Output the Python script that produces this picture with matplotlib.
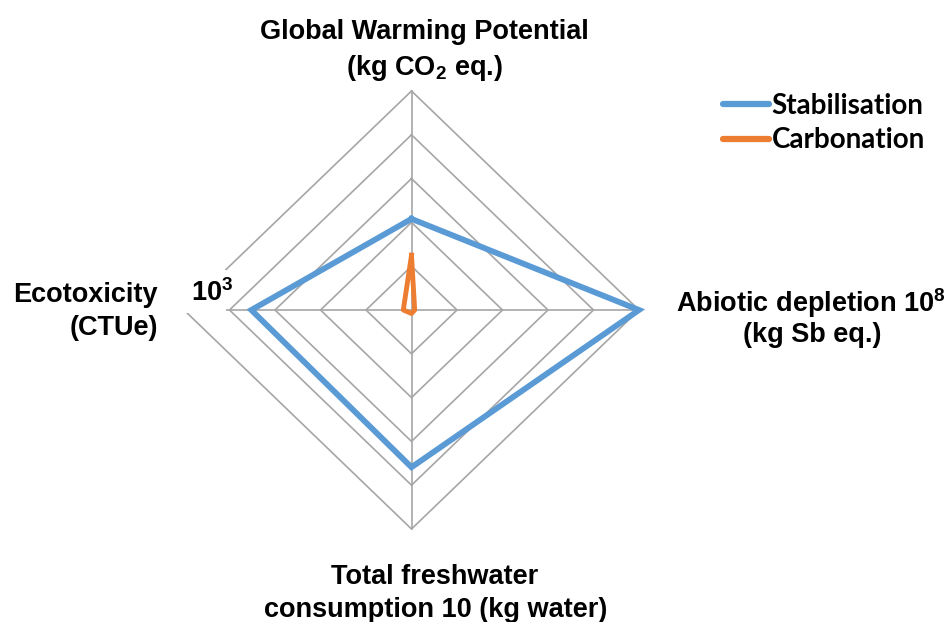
import numpy as np
import matplotlib
matplotlib.use("Agg")
import matplotlib.pyplot as plt
from matplotlib.patches import Rectangle

plt.rcParams["mathtext.fontset"] = "custom"
plt.rcParams["mathtext.rm"] = "Liberation Sans:bold"
plt.rcParams["mathtext.bf"] = "Liberation Sans:bold"

# radar axes, clockwise from top
categories = ["Global Warming Potential", "Abiotic depletion", "Total freshwater", "Ecotoxicity"]
stabilisation = [2.08, 5.0, 3.59, 3.52]
carbonation = [1.25, 0.07, 0.08, 0.18]
rings = [1, 2, 3, 4, 5]

BLUE = "#5B9BD5"
ORANGE = "#ED7D31"
GRID = "#A6A6A6"

angles = np.pi / 2 - np.arange(len(categories)) * np.pi / 2


def to_xy(vals):
    v = np.asarray(vals + vals[:1], dtype=float)
    a = np.concatenate([angles, angles[:1]])
    return v * np.cos(a), v * np.sin(a)


fig = plt.figure(figsize=(9.52, 6.22), dpi=100)
# centre ~ (411, 310) px, 45.5 px per unit horizontally, 43.8 vertically
cx, cy, ux, uy = 411.5, 310, 45.5, 43.8
lim = 5.6
ax = fig.add_axes([(cx - lim * ux) / 952, (622 - cy - lim * uy) / 622,
                   2 * lim * ux / 952, 2 * lim * uy / 622])
ax.set_xlim(-lim, lim)
ax.set_ylim(-lim, lim)
ax.axis("off")

for r in rings:
    x, y = to_xy([r] * len(categories))
    ax.plot(x, y, color=GRID, lw=1.2, zorder=1)
for a in angles:
    ax.plot([0, rings[-1] * np.cos(a)], [0, rings[-1] * np.sin(a)], color=GRID, lw=1.2, zorder=1)

# the "10^3" label box hides part of the outer ring
ax.add_patch(Rectangle((-5.4, -0.06), 1.33, 0.98, facecolor="white", edgecolor="none", zorder=2))

x, y = to_xy(stabilisation)
ax.plot(x, y, color=BLUE, lw=4.2, zorder=3, solid_joinstyle="miter", label="Stabilisation")
x, y = to_xy(carbonation)
ax.plot(x, y, color=ORANGE, lw=3.5, zorder=4, solid_joinstyle="round", label="Carbonation")

lab = dict(fontsize=19.5, fontweight="bold", family="Liberation Sans")
fig.text(424 / 952, 1 - 32 / 622, "Global Warming Potential", ha="center", va="center", **lab)
fig.text(424 / 952, 1 - 68 / 622, "(kg CO$_\\mathbf{2}$ eq.)", ha="center", va="center", **lab)
fig.text(811 / 952, 1 - 303 / 622, "Abiotic depletion 10$^\\mathbf{8}$", ha="center", va="center", **lab)
fig.text(812 / 952, 1 - 335 / 622, "(kg Sb eq.)", ha="center", va="center", **lab)
fig.text(158 / 952, 1 - 295 / 622, "Ecotoxicity", ha="right", va="center", **lab)
fig.text(158 / 952, 1 - 328 / 622, "(CTUe)", ha="right", va="center", **lab)
fig.text(191 / 952, 1 - 293 / 622, "10$^\\mathbf{3}$", ha="left", va="center", **lab)
fig.text(435 / 952, 1 - 577 / 622, "Total freshwater", ha="center", va="center", **lab)
fig.text(436 / 952, 1 - 610 / 622, "consumption 10 (kg water)", ha="center", va="center", **lab)

leg = fig.legend(loc="upper left", bbox_to_anchor=(698 / 952, 1 - 68 / 622), frameon=False,
                 handlelength=1.65, handletextpad=0.1, labelspacing=0.3,
                 prop={"family": "Lato", "weight": "bold", "size": 20})
for h in leg.get_lines():
    h.set_linewidth(4.5)
    h.set_solid_capstyle("round")

fig.savefig("out.png", dpi=100)
